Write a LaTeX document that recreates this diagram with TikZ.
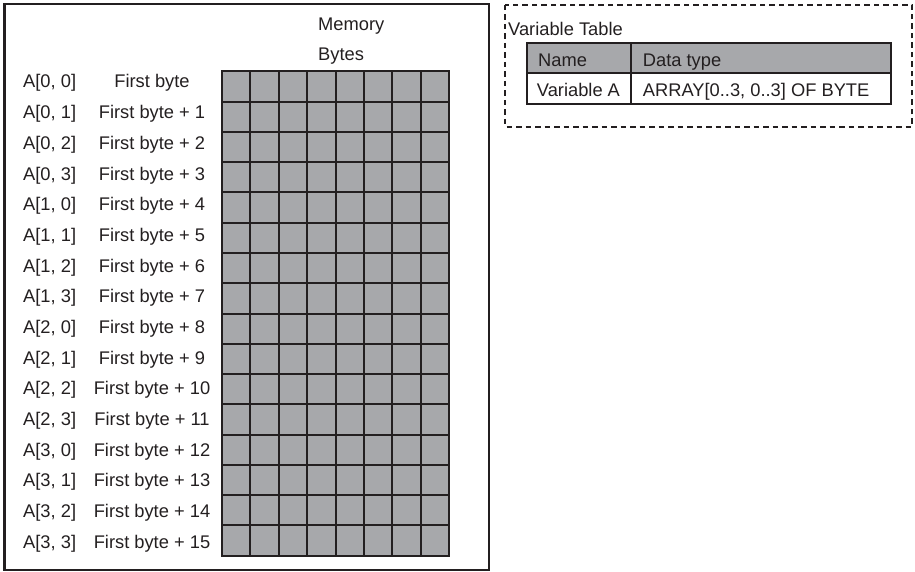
\documentclass[tikz,border=0pt]{standalone}
\usepackage{fontspec}
\setmainfont{Liberation Sans}
\definecolor{cellgray}{RGB}{167,168,171}
\definecolor{inkdark}{RGB}{35,31,32}

\begin{document}
\begin{tikzpicture}[%
        x=1pt, y=-1pt,
        idxtext/.style={anchor=base west, inner sep=0pt, font=\fontsize{18.3}{21}\selectfont, text=inkdark},
        addrtext/.style={anchor=base, inner sep=0pt, font=\fontsize{18.3}{21}\selectfont, text=inkdark},
        frame/.style={draw=inkdark, line width=2.6pt},
        cellgrid/.style={draw=inkdark, line width=2pt},
        tablegrid/.style={draw=inkdark, line width=2.5pt},
        dashbox/.style={draw=inkdark, line width=2.2pt, dash pattern=on 5.5pt off 4pt}%
    ]
        \useasboundingbox (0,0) rectangle (915,572);

        % memory frame
        \draw[frame] (4.5,4) rectangle (489,570);
        \node[idxtext] (mem) at (318,30.5) {Memory};
        \node[idxtext] (bytes) at (318,60.5) {Bytes};

        % byte cells
        \fill[cellgray] (222,71.5) rectangle (449,555.5);
        \foreach \k in {1,...,7}
            \draw[cellgrid] (222+28.375*\k,71.5) -- ++(0,484);
        \foreach \k in {1,...,15}
            \draw[cellgrid] (222,71.5+30.25*\k) -- ++(227,0);
        \draw[cellgrid] (222,71.5) rectangle (449,555.5);

        % element and address labels
        \foreach \i in {0,...,15} {
            \pgfmathtruncatemacro{\r}{div(\i,4)}
            \pgfmathtruncatemacro{\c}{mod(\i,4)}
            \node[idxtext] (idx\i) at (23,88+30.67*\i) {A[\r, \c]};
            \node[addrtext] (addr\i) at (152,88+30.67*\i) {\ifnum\i=0 First byte\else First byte + \i\fi};
        }

        % variable table
        \draw[dashbox] (505,5) rectangle (912,127);
        \node[idxtext] (vartab) at (508,36) {Variable Table};
        \fill[cellgray] (527,43) rectangle (891,73);
        \draw[tablegrid] (527,43) rectangle (891,104);
        \draw[tablegrid] (527,73) -- (891,73);
        \draw[tablegrid] (631,43) -- (631,104);
        \node[idxtext] (hname) at (538,66.7) {Name};
        \node[idxtext] (htype) at (642.7,66.7) {Data type};
        \node[idxtext] (vname) at (536.7,96.7) {Variable A};
        \node[idxtext] (vtype) at (642.7,96.7) {ARRAY[0..3, 0..3] OF BYTE};
    \end{tikzpicture}
\end{document}
